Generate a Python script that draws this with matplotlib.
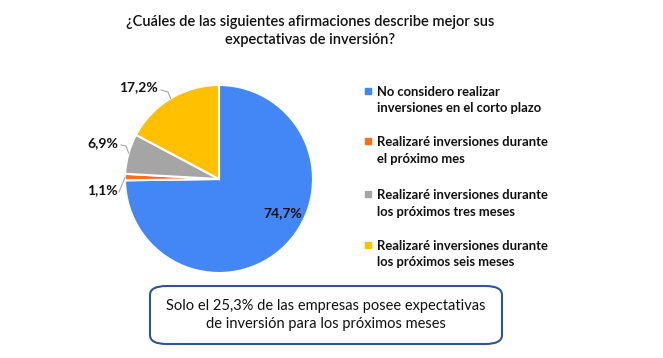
import numpy as np
import matplotlib
matplotlib.use("Agg")
import matplotlib.pyplot as plt
from matplotlib.patches import FancyBboxPatch

categories = [
    "No considero realizar\ninversiones en el corto plazo",
    "Realizaré inversiones durante\nel próximo mes",
    "Realizaré inversiones durante\nlos próximos tres meses",
    "Realizaré inversiones durante\nlos próximos seis meses",
]
values = [74.7, 1.1, 6.9, 17.2]
value_labels = ["74,7%", "1,1%", "6,9%", "17,2%"]
colors = ["#4287F5", "#FF6F1A", "#A5A5A5", "#FFC000"]
title = "¿Cuáles de las siguientes afirmaciones describe mejor sus\nexpectativas de inversión?"
note = "Solo el 25,3% de las empresas posee expectativas\nde inversión para los próximos meses"

plt.rcParams['font.family'] = ['Lato', 'DejaVu Sans']

W, H = 663, 358
fig = plt.figure(figsize=(W / 100, H / 100), dpi=100)

# pie axes: center (219,179), radius 94 px
cx, cy, r = 219, 179, 94
ax = fig.add_axes([(cx - r) / W, (H - cy - r) / H, 2 * r / W, 2 * r / H])
wedges, _ = ax.pie(values, colors=colors, startangle=90, counterclock=False,
                   wedgeprops=dict(edgecolor="white", linewidth=1.5))
ax.set_xlim(-1, 1)
ax.set_ylim(-1, 1)
ax.set_aspect("equal")
ax.axis("off")

# label anchors (pixels): right edge for outside labels, center for inside label
label_px = [(283, 213), (118, 190), (118, 143), (158, 87)]
edge_ang = [None, 179, 164, 121]
line_start = [None, (119, 192), (121, 145), (161, 90)]
line_elbow = [None, None, (126, 146), (168, 92)]
for i, (lab, (lx, ly)) in enumerate(zip(value_labels, label_px)):
    ha = "center" if i == 0 else "right"
    fig.text(lx / W, 1 - ly / H, lab, ha=ha, va="center", fontsize=10,
             fontweight="bold", color="#111111")
    if edge_ang[i] is not None:
        a = np.deg2rad(edge_ang[i])
        ex, ey = cx + r * np.cos(a), cy - r * np.sin(a)
        pts = [line_start[i]]
        if line_elbow[i] is not None:
            pts.append(line_elbow[i])
        pts.append((ex, ey))
        xs = [p[0] / W for p in pts]
        ys = [1 - p[1] / H for p in pts]
        fig.add_artist(plt.Line2D(xs, ys, color="#A6A6A6", lw=0.8))

# title
fig.text(310 / W, 1 - 31 / H, title, ha="center", va="center", fontsize=10.5,
         fontweight="semibold", color="#111111", linespacing=1.35)

# legend
leg_y = [100, 150.5, 203, 254]
for c, lab, y in zip(colors, categories, leg_y):
    fig.add_artist(plt.Line2D([368 / W], [1 - (y - 9) / H], marker="s", markersize=4.5,
                              color=c, linestyle="none"))
    fig.text(377 / W, 1 - y / H, lab, ha="left", va="center", fontsize=9.4,
             fontweight="bold", color="#111111", linespacing=1.5)

# note box
bx0, by0, bx1, by1 = 150, 286, 502, 344
box = FancyBboxPatch((bx0 / W, 1 - by1 / H), (bx1 - bx0) / W, (by1 - by0) / H,
                     boxstyle="round,pad=0,rounding_size=0.025", transform=fig.transFigure,
                     facecolor="white", edgecolor="#2F5597", linewidth=1.5)
fig.add_artist(box)
fig.text((bx0 + bx1) / 2 / W, 1 - 315 / H, note, ha="center", va="center", fontsize=10.5,
         color="#111111", linespacing=1.4)

fig.savefig("out.png", dpi=100)
